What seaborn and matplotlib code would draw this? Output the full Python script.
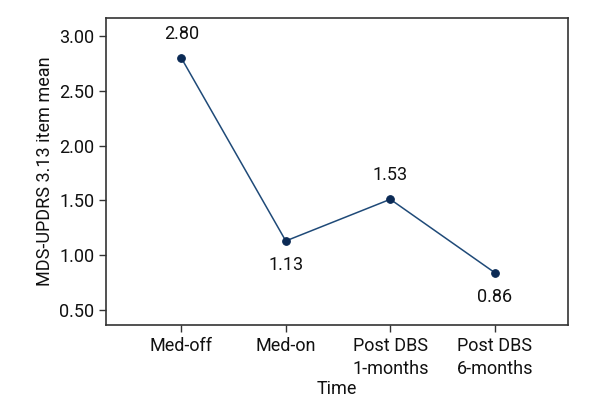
import matplotlib
matplotlib.use("Agg")
import matplotlib.pyplot as plt
import seaborn as sns
import pandas as pd

categories = ["Med-off", "Med-on", "Post DBS\n1-months", "Post DBS\n6-months"]
means = [2.80, 1.13, 1.51, 0.84]
labels = ["2.80", "1.13", "1.53", "0.86"]
label_above = [True, False, True, False]
yticks = [0.50, 1.00, 1.50, 2.00, 2.50, 3.00]

sns.set_theme(style="ticks")
plt.rcParams['font.family'] = ['Roboto', 'DejaVu Sans']
plt.rcParams['font.size'] = 13

df = pd.DataFrame({"Time": categories, "mean": means})

fig = plt.figure(figsize=(6, 4.2), dpi=100)
ax = fig.add_axes([106/600, 1-325/420, (568-106)/600, (325-18)/420])
sns.lineplot(data=df, x="Time", y="mean", sort=False, ax=ax, color="#1f4a78",
             linewidth=1.1, marker="o", markersize=5.5, markerfacecolor="#0b2a55",
             markeredgecolor="#0b2a55")

for i, (v, t, up) in enumerate(zip(means, labels, label_above)):
    ax.annotate(t, (i, v), xytext=(0, 11 if up else -11), textcoords="offset points",
                ha="center", va="bottom" if up else "top", fontsize=13, color="#111111")

ax.set_xlim(-0.72, 3.7)
ax.set_ylim(0.363, 3.164)
ax.set_yticks(yticks)
ax.set_yticklabels([f"{v:.2f}" for v in yticks])
ax.set_xticks(range(len(categories)))
ax.set_xticklabels(categories, linespacing=1.4)
ax.tick_params(axis="both", labelsize=13, length=5, width=1, color="#333333", labelcolor="#111111")
ax.set_xlabel("Time", fontsize=13, labelpad=1, color="#111111")
ax.set_ylabel("MDS-UPDRS 3.13 item mean", fontsize=13, labelpad=4, color="#111111")
for s in ax.spines.values():
    s.set_visible(True)
    s.set_color("#333333")
    s.set_linewidth(1.2)

fig.savefig("out.png", dpi=100)
